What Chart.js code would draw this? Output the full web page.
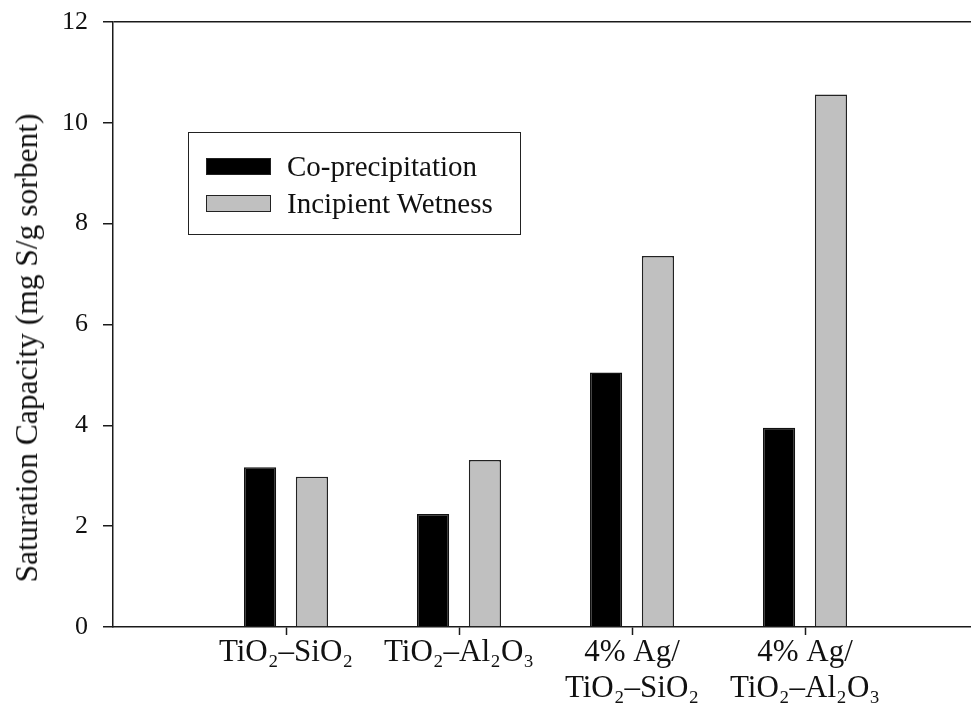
<!DOCTYPE html>
<html>
<head>
<meta charset="utf-8">
<script src="https://cdn.jsdelivr.net/npm/chart.js@4"></script>
<style>
	html, body { margin: 0; padding: 0; background: #fff; overflow: hidden; }
	#wrap { position: relative; width: 990px; height: 704px; }
	#legend {
		position: absolute; left: 188px; top: 132px; width: 331px; height: 101px;
		border: 1.5px solid #222; box-sizing: content-box;
		font-family: "Liberation Serif", "Times New Roman", serif; font-size: 29px; color: #111;
	}
	#legend .row { position: absolute; left: 17px; display: flex; align-items: center; height: 30px; }
	#legend .sw { width: 63px; height: 15px; border: 1.5px solid #222; margin-right: 16px; }
	#ytitle {
		position: absolute; left: 27px; top: 348px; white-space: nowrap;
		transform: translate(-50%, -50%) rotate(-90deg);
		font-family: "Liberation Serif", "Times New Roman", serif; font-size: 31.5px; color: #111;
	}
</style>
</head>
<body>
<div id="wrap">
	<canvas id="chart" width="990" height="704"></canvas>
	<div id="legend"></div>
	<div id="ytitle"></div>
</div>
<script>
const categories = ["", "TiO₂–SiO₂", "TiO₂–Al₂O₃", ["4% Ag/", "TiO₂–SiO₂"], ["4% Ag/", "TiO₂–Al₂O₃"], ""];
const coPrecipitation = [null, 3.17, 2.24, 5.05, 3.95, null];
const incipientWetness = [null, 2.98, 3.31, 7.36, 10.56, null];
const seriesNames = ["Co-precipitation", "Incipient Wetness"];
const yTicks = [0, 2, 4, 6, 8, 10, 12];
const yTitle = "Saturation Capacity (mg S/g sorbent)";

const serif = "'Liberation Serif', 'Times New Roman', serif";
const ink = "#1a1a1a";

const ctx = document.getElementById("chart").getContext("2d");

const chart = new Chart(ctx, {
	type: "bar",
	data: {
		labels: categories,
		datasets: [
			{
				label: seriesNames[0],
				data: coPrecipitation,
				backgroundColor: "#000000",
				borderColor: "#111111",
				borderWidth: 1.5,
			},
			{
				label: seriesNames[1],
				data: incipientWetness,
				backgroundColor: "#c0c0c0",
				borderColor: "#222222",
				borderWidth: 1.5,
			},
		],
	},
	options: {
		responsive: false,
		animation: false,
		layout: { padding: { top: 22, right: 12, left: 0, bottom: 0 } },
		datasets: { bar: { categoryPercentage: 0.6, barPercentage: 0.62 } },
		plugins: { legend: { display: false }, tooltip: { enabled: false } },
		scales: {
			x: {
				offset: false,
				afterFit: (s) => { s.height = 77; },
				border: { display: true, color: ink, width: 1.5 },
				grid: {
					offset: false,
					drawOnChartArea: false,
					tickLength: 8,
					tickWidth: 1.5,
					tickColor: (c) => (c.index === 0 || c.index === categories.length - 1 ? "rgba(0,0,0,0)" : ink),
				},
				ticks: {
					color: "#111",
					font: { family: serif, size: 31, lineHeight: 1.15 },
					padding: 0,
					maxRotation: 0,
					autoSkip: false,
				},
			},
			y: {
				min: 0,
				max: 12,
				afterFit: (s) => { s.width = 113; },
				afterBuildTicks: (s) => { s.ticks = yTicks.map((v) => ({ value: v })); },
				border: { display: true, color: ink, width: 1.5 },
				grid: {
					drawOnChartArea: true,
					color: (c) => (c.tick && c.tick.value === 12 ? ink : "rgba(0,0,0,0)"),
					lineWidth: 1.5,
					tickLength: 10,
					tickColor: ink,
				},
				ticks: {
					color: "#111",
					font: { family: serif, size: 26, lineHeight: 0.5 },
					padding: 15,
				},
			},
		},
	},
});

document.getElementById("ytitle").textContent = yTitle;

const legend = document.getElementById("legend");
chart.data.datasets.forEach((ds, i) => {
	const row = document.createElement("div");
	row.className = "row";
	row.style.top = (18 + i * 37) + "px";
	const sw = document.createElement("div");
	sw.className = "sw";
	sw.style.background = ds.backgroundColor;
	const label = document.createElement("span");
	label.textContent = ds.label;
	row.appendChild(sw);
	row.appendChild(label);
	legend.appendChild(row);
});
</script>
</body>
</html>
